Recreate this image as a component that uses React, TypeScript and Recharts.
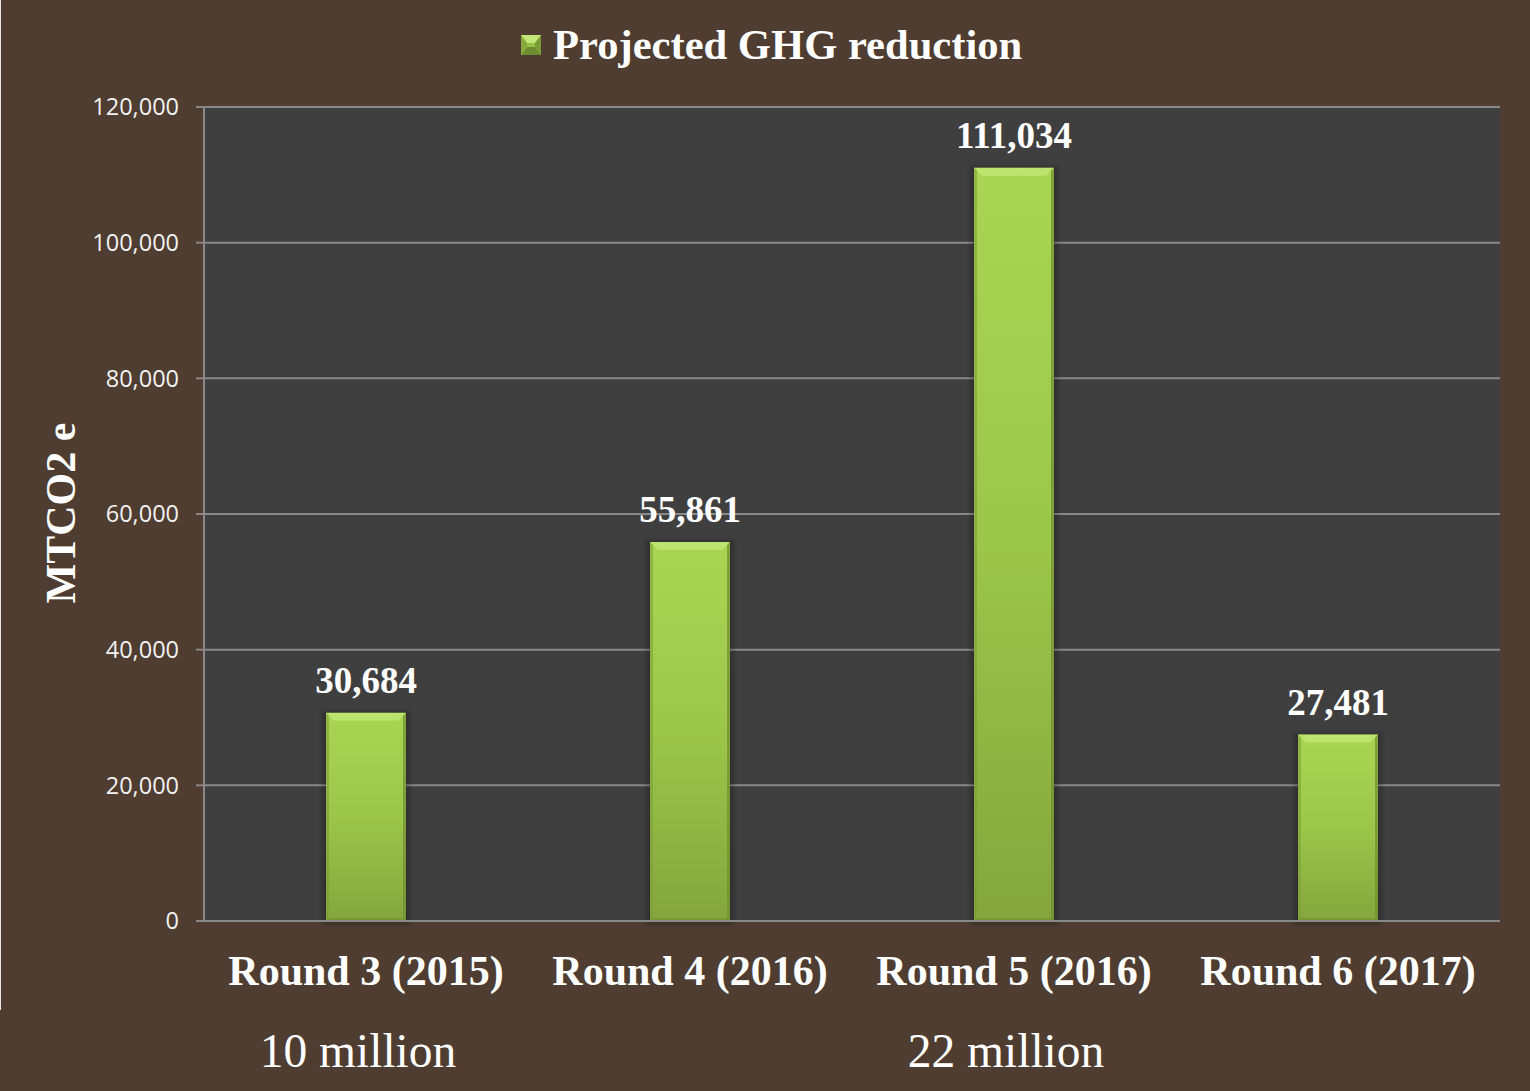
import React from "react";
import {
  BarChart,
  Bar,
  XAxis,
  YAxis,
  CartesianGrid,
  Legend,
  LabelList,
} from "recharts";

const categories = ["Round 3 (2015)", "Round 4 (2016)", "Round 5 (2016)", "Round 6 (2017)"];
const reductions = [30684, 55861, 111034, 27481];
const fundingNotes = ["10 million", "", "22 million", ""];
const yTicks = [0, 20000, 40000, 60000, 80000, 100000, 120000];
const seriesName = "Projected GHG reduction";

const SERIF = "'Liberation Serif', 'Times New Roman', serif";
const BG = "#4e3d30";
const GRID = "#898989";

const data = categories.map((c, i) => ({
  round: c,
  value: reductions[i],
  note: fundingNotes[i],
}));

// bevelled green bar like the office-style chart
function BevelBar(props: any) {
  const { x, y, width, height } = props;
  if (!height || height <= 0) return null;
  const b = 8;
  return (
    <g>
      <rect
        x={x - 4}
        y={y - 2}
        width={width + 8}
        height={height + 6}
        fill="#000"
        opacity={0.22}
        filter="url(#barShadow)"
      />
      <rect x={x} y={y} width={width} height={height} fill="url(#barFill)" />
      <polygon
        points={`${x},${y} ${x + width},${y} ${x + width - b},${y + b} ${x + b},${y + b}`}
        fill="#c3e877"
        opacity={0.75}
      />
      <polygon
        points={`${x},${y} ${x + 3},${y + 3} ${x + 3},${y + height - 3} ${x},${y + height}`}
        fill="#7c9c36"
        opacity={0.55}
      />
      <polygon
        points={`${x + width},${y} ${x + width - 3},${y + 3} ${x + width - 3},${y + height - 3} ${x + width},${y + height}`}
        fill="#6f8d30"
        opacity={0.7}
      />
      <polygon
        points={`${x},${y + height} ${x + 3},${y + height - 3} ${x + width - 3},${y + height - 3} ${x + width},${y + height}`}
        fill="#6f8d30"
        opacity={0.6}
      />
    </g>
  );
}

function RoundTick(props: any) {
  const { x, y, payload, index } = props;
  const i = payload?.index ?? index;
  return (
    <g>
      <text
        x={x}
        y={y + 64}
        textAnchor="middle"
        fill="#ffffff"
        fontFamily={SERIF}
        fontWeight="bold"
        fontSize={42}
      >
        {payload.value}
      </text>
      {fundingNotes[i] ? (
        <text
          x={x - 8}
          y={y + 146}
          textAnchor="middle"
          fill="#ffffff"
          fontFamily={SERIF}
          fontSize={47.5}
        >
          {fundingNotes[i]}
        </text>
      ) : null}
    </g>
  );
}

function LegendIcon() {
  return (
    <svg width={20} height={20} style={{ display: "block" }}>
      <rect x={0} y={0} width={20} height={20} fill="#98c246" />
      <polygon points="0,0 20,0 14,8 6,8" fill="#c3e877" />
      <polygon points="0,20 20,20 14,12 6,12" fill="#6f8d30" />
      <polygon points="0,0 6,8 6,12 0,20" fill="#87ab3e" />
      <polygon points="20,0 14,8 14,12 20,20" fill="#7c9c36" />
    </svg>
  );
}

function LegendContent() {
  return (
    <div style={{ display: "flex", alignItems: "center", gap: 12 }}>
      <LegendIcon />
      <span
        style={{
          fontFamily: SERIF,
          fontWeight: "bold",
          fontSize: 42.6,
          lineHeight: "42px",
          color: "#ffffff",
          whiteSpace: "nowrap",
        }}
      >
        {seriesName}
      </span>
    </div>
  );
}

export default function App() {
  return (
    <div
      style={{
        position: "fixed",
        left: 0,
        top: 0,
        width: 1530,
        height: 1091,
        background: BG,
        overflow: "hidden",
      }}
    >
      <div
        style={{
          position: "absolute",
          left: 0,
          top: 0,
          width: 1,
          height: 1010,
          background: "#e6e6e6",
        }}
      />
      <BarChart
        width={1530}
        height={1091}
        data={data}
        margin={{ top: 107, right: 30, left: 104, bottom: 100 }}
      >
        <defs>
          <linearGradient id="barFill" x1="0" y1="0" x2="0" y2="1">
            <stop offset="0%" stopColor="#aad553" />
            <stop offset="50%" stopColor="#9cc64a" />
            <stop offset="100%" stopColor="#84a63d" />
          </linearGradient>
          <filter id="barShadow" x="-20%" y="-5%" width="140%" height="110%">
            <feGaussianBlur stdDeviation="2" />
          </filter>
        </defs>
        <CartesianGrid
          vertical={false}
          fill="#3f3f3f"
          fillOpacity={1}
          stroke={GRID}
          strokeWidth={2}
        />
        <Legend
          layout="horizontal"
          verticalAlign="middle"
          align="center"
          content={<LegendContent />}
          wrapperStyle={{ top: 24, left: 521, width: 600, height: 42 }}
        />
        <XAxis
          dataKey="round"
          height={70}
          axisLine={{ stroke: GRID, strokeWidth: 2 }}
          tickLine={false}
          tickSize={0}
          tickMargin={0}
          interval={0}
          tick={<RoundTick />}
        />
        <YAxis
          width={100}
          domain={[0, 120000]}
          ticks={yTicks}
          interval={0}
          tickSize={8}
          tickMargin={17}
          axisLine={{ stroke: GRID, strokeWidth: 2 }}
          tickLine={{ stroke: GRID, strokeWidth: 2 }}
          tick={{ fill: "#f2f2f2", fontSize: 23.5, fontFamily: "'Open Sans', sans-serif" }}
          tickFormatter={(v: number) => v.toLocaleString("en-US")}
          label={{
            content: () => (
              <text
                transform="translate(75,513) rotate(-90)"
                textAnchor="middle"
                fill="#ffffff"
                fontFamily={SERIF}
                fontWeight="bold"
                fontSize={42}
              >
                MTCO2 e
              </text>
            ),
          }}
        />
        <Bar
          dataKey="value"
          name={seriesName}
          barSize={80}
          shape={<BevelBar />}
          isAnimationActive={false}
        >
          <LabelList
            dataKey="value"
            position="top"
            offset={20}
            fill="#ffffff"
            fontFamily={SERIF}
            fontWeight="bold"
            fontSize={37}
            formatter={(v: any) => Number(v).toLocaleString("en-US")}
          />
        </Bar>
      </BarChart>
    </div>
  );
}
